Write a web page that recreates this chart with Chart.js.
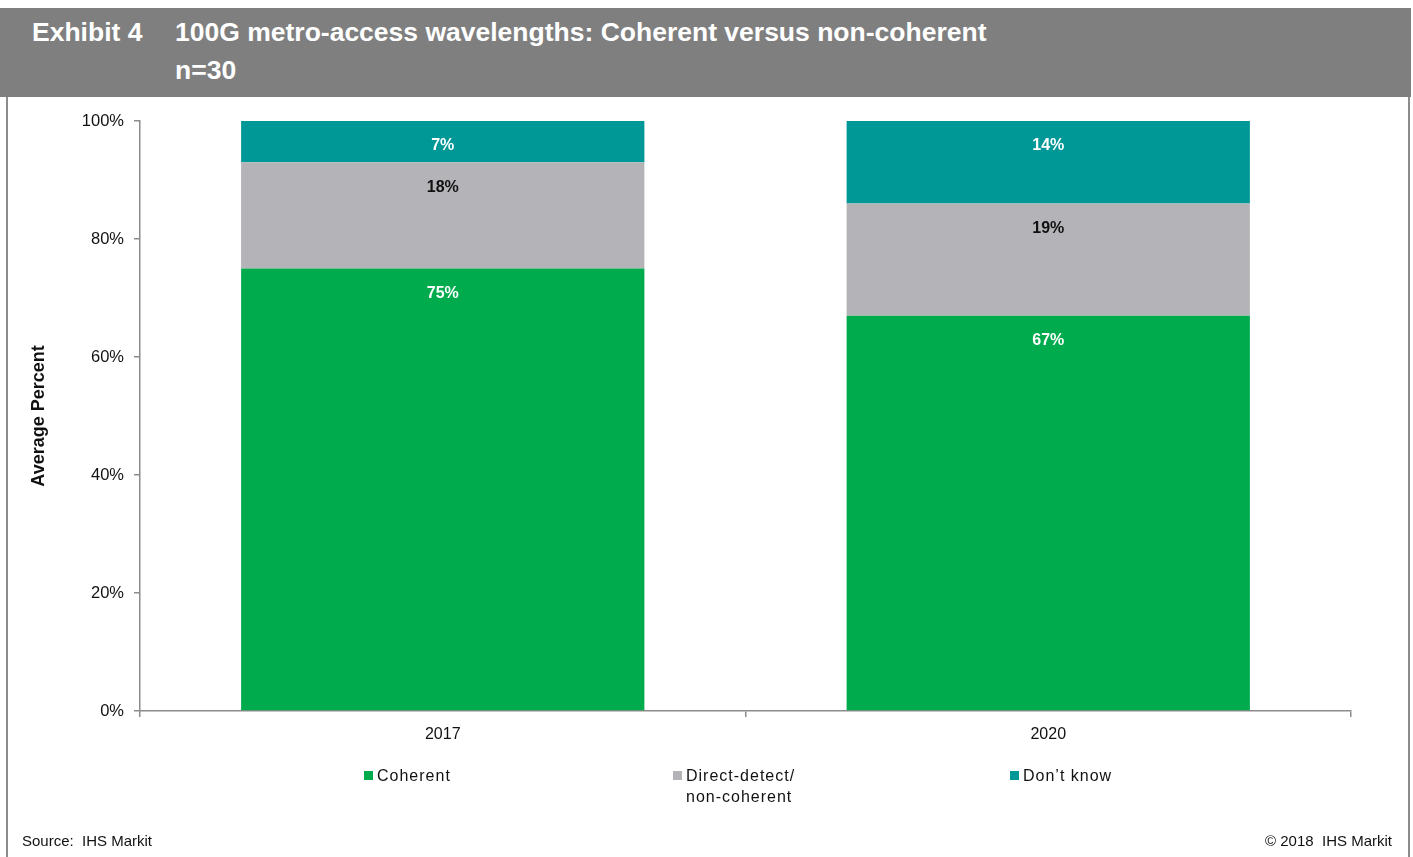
<!DOCTYPE html>
<html>
<head>
<meta charset="utf-8">
<script src="https://cdn.jsdelivr.net/npm/chart.js@4/dist/chart.umd.min.js"></script>
<style>
    body { margin: 0; background: #fff; font-family: "Liberation Sans", Arial, sans-serif; }
    #page { position: relative; width: 1413px; height: 857px; overflow: hidden; }
    #header {
        position: absolute; left: 0; top: 8px; width: 1411px; height: 89px;
        background: #7f7f7f; color: #fff; font-weight: bold; font-size: 26.5px;
    }
    #header .num { position: absolute; left: 32px; top: 5px; line-height: 38px; }
    #header .ttl { position: absolute; left: 175px; top: 5px; line-height: 38px; }
    #frame {
        position: absolute; left: 6px; top: 97px; width: 1400px; height: 770px;
        border-left: 2px solid #8c8c8c; border-right: 2px solid #8c8c8c;
    }
    #chart { position: absolute; left: 0; top: 0; }
    .legend-item { position: absolute; font-size: 16px; color: #111; line-height: 21px; letter-spacing: 1px; }
    .legend-item i {
        position: absolute; left: -13px; top: 6px; width: 9px; height: 9px;
    }
    .foot { position: absolute; top: 832px; font-size: 15px; color: #111; }
</style>
</head>
<body>
<div id="page">
    <canvas id="chart" width="1413" height="857"></canvas>
    <div id="frame"></div>
    <div id="header">
        <div class="num">Exhibit 4</div>
        <div class="ttl">100G metro-access wavelengths: Coherent versus non-coherent<br>n=30</div>
    </div>
    <div id="legend"></div>
    <div class="foot" style="left:22px">Source:&nbsp; IHS Markit</div>
    <div class="foot" style="right:21px">© 2018&nbsp; IHS Markit</div>
</div>

<script>
// survey results, share of respondents
const years = ['2017', '2020'];
const seriesNames = [['Coherent'], ['Direct-detect/', 'non-coherent'], ['Don’t know']];
const coherent = [75, 67];
const directDetect = [18, 19];
const dontKnow = [7, 14];
const yTicks = [0, 20, 40, 60, 80, 100];

const colors = ['#00ab4e', '#b4b4b8', '#009797'];
const labelColors = ['#ffffff', '#111111', '#ffffff'];
const legendX = [377, 686, 1023];

// value labels near the top of each stacked segment
const segmentLabels = {
    id: 'segmentLabels',
    afterDatasetsDraw(chart) {
        const ctx = chart.ctx;
        ctx.save();
        ctx.font = 'bold 16px "Liberation Sans", Arial, sans-serif';
        ctx.textAlign = 'center';
        ctx.textBaseline = 'middle';
        chart.data.datasets.forEach((ds, i) => {
            const meta = chart.getDatasetMeta(i);
            meta.data.forEach((bar, j) => {
                ctx.fillStyle = labelColors[i];
                ctx.fillText(ds.data[j] + '%', bar.x, bar.y + 25);
            });
        });
        ctx.restore();
    }
};

const datasets = [coherent, directDetect, dontKnow].map((data, i) => ({
    label: seriesNames[i].join(' '),
    data: data,
    backgroundColor: colors[i],
    borderWidth: 0,
    categoryPercentage: 1,
    barPercentage: 0.666
}));

const font = { family: '"Liberation Sans", Arial, sans-serif', size: 16 };

new Chart(document.getElementById('chart'), {
    type: 'bar',
    data: { labels: years, datasets: datasets },
    options: {
        responsive: false,
        animation: false,
        layout: { padding: { left: 0, right: 62, top: 121, bottom: 106 } },
        plugins: {
            legend: { display: false },
            tooltip: { enabled: false }
        },
        scales: {
            x: {
                stacked: true,
                afterFit(scale) { scale.height = 40; },
                grid: {
                    offset: true,
                    drawOnChartArea: false,
                    tickLength: 6,
                    color: '#8c8c8c',
                    lineWidth: 1.5
                },
                border: { color: '#8c8c8c', width: 1.5 },
                ticks: { color: '#111', font: font, padding: 8 }
            },
            y: {
                stacked: true,
                min: 0,
                max: 100,
                afterFit(scale) { scale.width = 140; },
                afterBuildTicks(scale) { scale.ticks = yTicks.map(v => ({ value: v })); },
                grid: {
                    drawOnChartArea: false,
                    tickLength: 6,
                    color: '#8c8c8c',
                    lineWidth: 1.5
                },
                border: { color: '#8c8c8c', width: 1.5 },
                ticks: {
                    color: '#111',
                    font: { family: font.family, size: 16.5 },
                    padding: 10,
                    callback: v => v + '%'
                },
                title: {
                    display: true,
                    text: 'Average Percent',
                    color: '#111',
                    font: { family: font.family, size: 18, weight: 'bold' },
                    padding: { top: 28, bottom: 0 }
                }
            }
        }
    },
    plugins: [segmentLabels]
});

// legend below the axis
const legend = document.getElementById('legend');
seriesNames.forEach((name, i) => {
    const item = document.createElement('div');
    item.className = 'legend-item';
    item.style.left = legendX[i] + 'px';
    item.style.top = '765px';
    item.innerHTML = '<i style="background:' + colors[i] + '"></i>' + name.join('<br>');
    legend.appendChild(item);
});
</script>
</body>
</html>
